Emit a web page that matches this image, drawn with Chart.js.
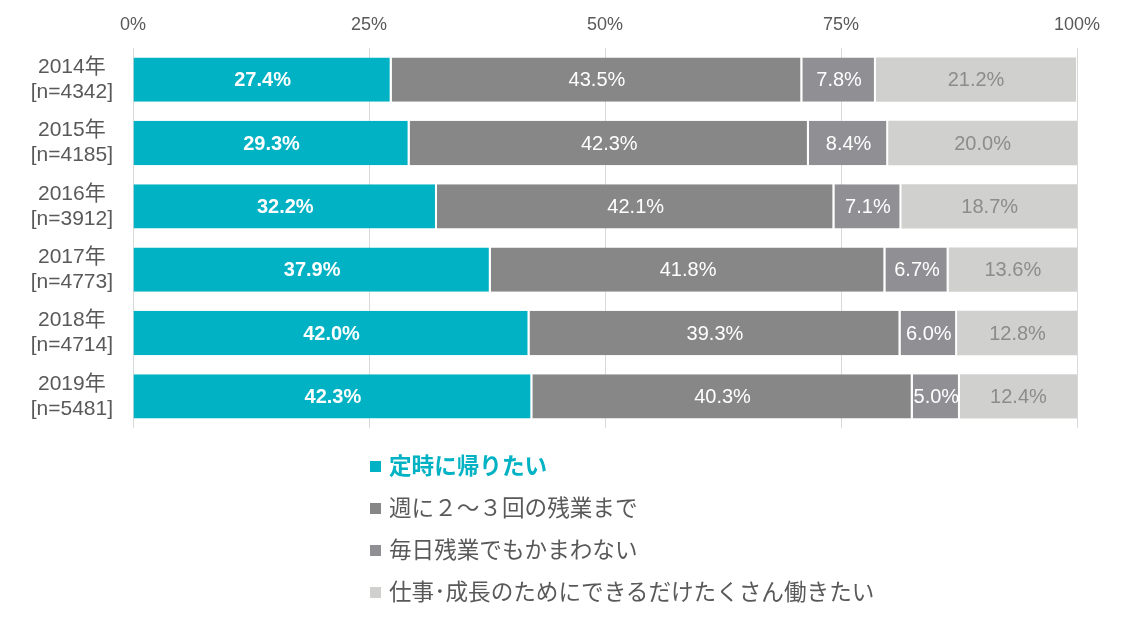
<!DOCTYPE html>
<html>
<head>
<meta charset="utf-8">
<script src="https://cdn.jsdelivr.net/npm/chart.js"></script>
<style>
  html, body { margin: 0; padding: 0; background: #fff; }
  #wrap { position: relative; width: 1124px; height: 622px; }
  #legend { position: absolute; left: 370px; top: 448px; font-family: 'Liberation Sans', 'Noto Sans CJK JP', sans-serif; font-size: 22.6px; color: #595959; }
  .item { height: 42px; line-height: 38px; white-space: nowrap; }
  .box { display: inline-block; width: 11px; height: 11px; margin-right: 8px; vertical-align: 2px; }
</style>
</head>
<body>
<div id="wrap">
  <canvas id="chart" width="1124" height="622"></canvas>
  <div id="legend"></div>
</div>
<script>
// categories (year + sample size)
const years = ['2014年', '2015年', '2016年', '2017年', '2018年', '2019年'];
const samples = ['[n=4342]', '[n=4185]', '[n=3912]', '[n=4773]', '[n=4714]', '[n=5481]'];

// series values (%)
const onTime = [27.4, 29.3, 32.2, 37.9, 42.0, 42.3];
const fewTimes = [43.5, 42.3, 42.1, 41.8, 39.3, 40.3];
const everyDay = [7.8, 8.4, 7.1, 6.7, 6.0, 5.0];
const workHard = [21.2, 20.0, 18.7, 13.6, 12.8, 12.4];

const seriesNames = ['定時に帰りたい', '週に２～３回の残業まで', '毎日残業でもかまわない', '仕事･成長のためにできるだけたくさん働きたい'];
const xTicks = [0, 25, 50, 75, 100];

const FONT = "'Liberation Sans', 'Noto Sans CJK JP', sans-serif";
const colors = ['#00B2C3', '#878787', '#909094', '#D0D0CE'];
const labelColors = ['#ffffff', '#ffffff', '#ffffff', '#8C8C8C'];
const legendColors = ['#00B2C3', '#595959', '#595959', '#595959'];

// draws value labels centered in each segment
const segmentLabels = {
  id: 'segmentLabels',
  afterDatasetsDraw(chart) {
    const ctx = chart.ctx;
    ctx.save();
    ctx.textAlign = 'center';
    ctx.textBaseline = 'middle';
    chart.data.datasets.forEach((ds, i) => {
      const meta = chart.getDatasetMeta(i);
      ctx.fillStyle = labelColors[i];
      ctx.font = (i === 0 ? 'bold ' : '') + '20px ' + FONT;
      meta.data.forEach((bar, j) => {
        const p = bar.getProps(['x', 'y', 'base'], true);
        ctx.fillText(ds.data[j].toFixed(1) + '%', (p.x + p.base) / 2, p.y + 1);
      });
    });
    ctx.restore();
  }
};

const datasets = [onTime, fewTimes, everyDay, workHard].map((vals, i) => ({
  label: seriesNames[i],
  data: vals,
  backgroundColor: colors[i],
  borderColor: '#ffffff',
  borderWidth: { left: 0, top: 0, bottom: 0, right: i < 3 ? 2 : 0 },
  borderSkipped: false,
  barPercentage: 0.7,
  categoryPercentage: 1.0
}));

new Chart(document.getElementById('chart'), {
  type: 'bar',
  data: {
    labels: years.map((y, i) => [y, samples[i]]),
    datasets: datasets
  },
  options: {
    indexAxis: 'y',
    responsive: false,
    animation: false,
    layout: { padding: { top: 0, right: 47, bottom: 194, left: 0 } },
    plugins: { legend: { display: false }, tooltip: { enabled: false } },
    scales: {
      x: {
        position: 'top',
        stacked: true,
        min: 0,
        max: 100,
        afterBuildTicks: (scale) => { scale.ticks = xTicks.map(v => ({ value: v })); },
        afterFit: (scale) => { scale.height = 48; },
        grid: { color: '#D9D9D9', lineWidth: 1, drawTicks: false },
        border: { display: false },
        ticks: {
          padding: 12,
          color: '#595959',
          font: { family: FONT, size: 18 },
          callback: v => v + '%'
        }
      },
      y: {
        stacked: true,
        afterFit: (scale) => { scale.width = 133; },
        grid: { display: false, drawTicks: false },
        border: { display: false },
        ticks: {
          padding: 20,
          crossAlign: 'center',
          color: '#595959',
          font: { family: FONT, size: 21, lineHeight: 1.2 }
        }
      }
    }
  },
  plugins: [segmentLabels]
});

// legend
const legend = document.getElementById('legend');
seriesNames.forEach((name, i) => {
  const row = document.createElement('div');
  row.className = 'item';
  row.style.color = legendColors[i];
  if (i === 0) row.style.fontWeight = 'bold';
  row.innerHTML = '<span class="box" style="background:' + colors[i] + '"></span>' + name;
  legend.appendChild(row);
});
</script>
</body>
</html>
